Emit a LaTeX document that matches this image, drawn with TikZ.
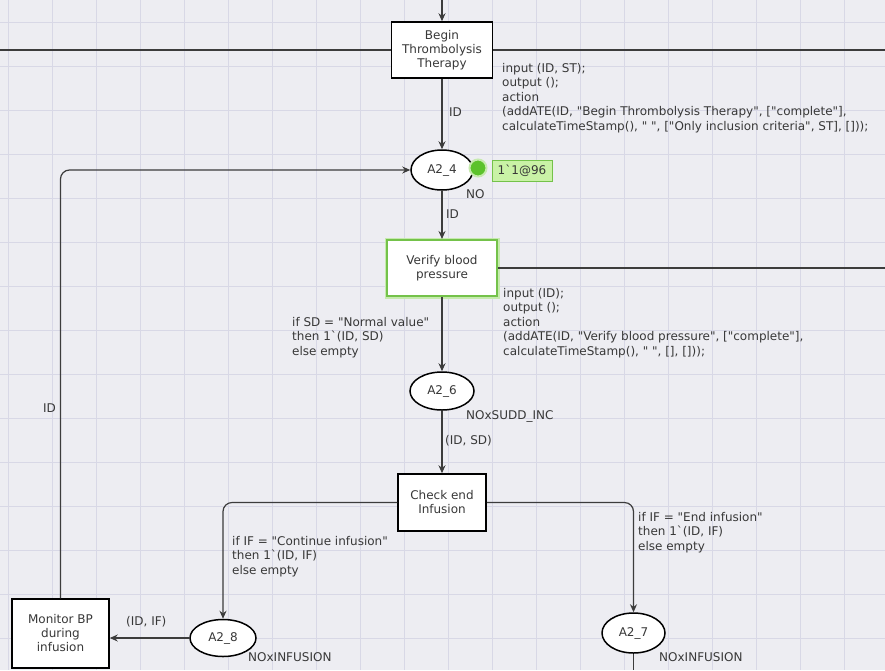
\documentclass[tikz,border=0pt]{standalone}
\usepackage{fontspec}
\setmainfont{DejaVu Sans}
\usetikzlibrary{arrows.meta,shapes.geometric}
\definecolor{gridbg}{HTML}{EDEDF2}
\definecolor{gridln}{HTML}{D8D8E6}
\definecolor{arcgray}{HTML}{3C3C3C}
\definecolor{txtgray}{HTML}{383838}
\definecolor{selgreen}{HTML}{74C24A}
\definecolor{glowgreen}{HTML}{C6EAAE}
\definecolor{tokgreen}{HTML}{5CC22C}
\definecolor{tokbox}{HTML}{C9F2A6}
\newcommand{\dqm}{\textquotedbl}

\begin{document}
\begin{tikzpicture}[x=1pt,y=-1pt,
	trans/.style={rectangle,draw=black,line width=1.5pt,fill=white,inner sep=0pt,align=center,text=txtgray,font=\fontsize{12}{14}\selectfont},
	place/.style={ellipse,draw=black,line width=1.5pt,fill=white,inner sep=0pt,text=txtgray,font=\fontsize{12}{14}\selectfont},
	arc/.style={draw=arcgray,line width=1.2pt,rounded corners=9pt,-{Stealth[length=8pt,width=7pt]}},
	plain/.style={draw=arcgray,line width=1.2pt},
	inscr/.style={inner sep=0pt,align=left,text=txtgray,font=\fontsize{12}{14.5}\selectfont}]
		\useasboundingbox (0,0) rectangle (885,670);
		\fill[gridbg] (0,0) rectangle (885,670);
		\foreach \gx in {8,52,...,885} \draw[gridln,line width=1pt] (\gx,0) -- (\gx,670);
		\foreach \gy in {22,66,...,670} \draw[gridln,line width=1pt] (0,\gy) -- (885,\gy);

		\coordinate (topin) at (442,0);
		\coordinate (lftend) at (0,50);
		\coordinate (rgtend) at (885,50);
		\coordinate (vrgt) at (885,268);
		\coordinate (p27out) at (633.5,670);

		\draw (442,50) node[trans,minimum width=101pt,minimum height=56pt] (begin) {Begin\\Thrombolysis\\Therapy} ;
		\draw (442,170) node[place,minimum width=62pt,minimum height=40pt] (p24) {A2\_4} ;
		\draw (442,268) node[trans,draw=selgreen,line width=2pt,preaction={draw=glowgreen,line width=5pt},minimum width=110pt,minimum height=56pt] (verify) {Verify blood\\pressure} ;
		\draw (442,391) node[place,minimum width=64pt,minimum height=38pt] (p26) {A2\_6} ;
		\draw (442,502.5) node[trans,minimum width=88pt,minimum height=57pt] (check) {Check end\\Infusion} ;
		\draw (223,638) node[place,minimum width=66pt,minimum height=37pt] (p28) {A2\_8} ;
		\draw (633.5,633) node[place,minimum width=63pt,minimum height=40pt] (p27) {A2\_7} ;
		\draw (60.5,633.5) node[trans,minimum width=97pt,minimum height=69pt] (monitor) {Monitor BP\\during\\infusion} ;

		\draw (478,168) node[circle,fill=tokgreen,draw=glowgreen,line width=2pt,minimum size=17pt,inner sep=0pt] (tok) {} ;
		\draw (522,170.5) node[rectangle,fill=tokbox,draw=selgreen,line width=0.8pt,minimum width=60pt,minimum height=21pt,inner sep=0pt,text=txtgray,font=\fontsize{12}{14}\selectfont] (tokval) {1\textasciigrave1@96} ;

		\draw[arc] (topin) -- (begin.north) ;
		\draw[plain] (lftend) -- (begin.west) ;
		\draw[plain] (begin.east) -- (rgtend) ;
		\draw[arc] (begin) -- (p24) ;
		\draw[arc] (monitor.north) |- (p24.west) ;
		\draw[arc] (p24) -- (verify) ;
		\draw[plain] (verify.east) -- (vrgt) ;
		\draw[arc] (verify) -- (p26) ;
		\draw[arc] (p26) -- (check) ;
		\draw[arc] (check.west) -| (p28.north) ;
		\draw[arc] (check.east) -| (p27.north) ;
		\draw[plain] (p27.south) -- (p27out) ;
		\draw[arc] (p28.west) -- (monitor.east |- p28.west) ;

		\draw (502,63) node[inscr,anchor=north west] (ins1) {input (ID, ST);\\output ();\\action\\(addATE(ID, \dqm Begin Thrombolysis Therapy\dqm, [\dqm complete\dqm],\\calculateTimeStamp(), \dqm\ \dqm, [\dqm Only inclusion criteria\dqm, ST], []));} ;
		\draw (503,288) node[inscr,anchor=north west] (ins2) {input (ID);\\output ();\\action\\(addATE(ID, \dqm Verify blood pressure\dqm, [\dqm complete\dqm],\\calculateTimeStamp(), \dqm\ \dqm, [], []));} ;
		\draw (449,112) node[inscr,anchor=west] (lid1) {ID} ;
		\draw (56,408) node[inscr,anchor=east] (lid2) {ID} ;
		\draw (466,194) node[inscr,anchor=west] (lno) {NO} ;
		\draw (446,214) node[inscr,anchor=west] (lid3) {ID} ;
		\draw (292,317) node[inscr,anchor=north west] (lsd) {if SD = \dqm Normal value\dqm\\then 1\textasciigrave(ID, SD)\\else empty} ;
		\draw (466,416) node[inscr,anchor=west] (lsudd) {NOxSUDD\_INC} ;
		\draw (445,441) node[inscr,anchor=west] (lidsd) {(ID, SD)} ;
		\draw (232,536) node[inscr,anchor=north west] (lcont) {if IF = \dqm Continue infusion\dqm\\then 1\textasciigrave(ID, IF)\\else empty} ;
		\draw (638,512) node[inscr,anchor=north west] (lend) {if IF = \dqm End infusion\dqm\\then 1\textasciigrave(ID, IF)\\else empty} ;
		\draw (126,622) node[inscr,anchor=west] (lidif) {(ID, IF)} ;
		\draw (248,657) node[inscr,anchor=west] (linf1) {NOxINFUSION} ;
		\draw (659,657) node[inscr,anchor=west] (linf2) {NOxINFUSION} ;
\end{tikzpicture}
\end{document}
